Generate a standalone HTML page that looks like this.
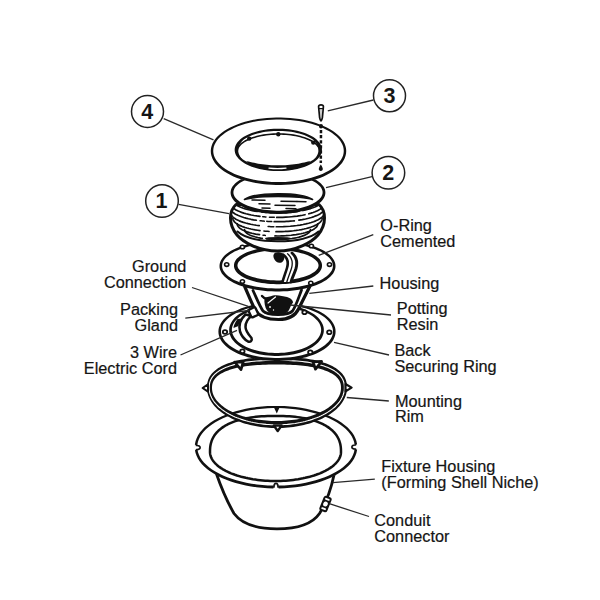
<!DOCTYPE html>
<html><head><meta charset="utf-8">
<style>
html,body{margin:0;padding:0;background:#fff;width:600px;height:600px;overflow:hidden}
svg{display:block}
text{font-family:"Liberation Sans",sans-serif;fill:#151515}
</style></head><body>
<svg width="600" height="600" viewBox="0 0 600 600">
<rect width="600" height="600" fill="#fff"/>
<!-- callout circles -->
<g stroke="#222" stroke-width="1.5" fill="#fff">
<circle cx="147.5" cy="111.5" r="16"/>
<circle cx="389.5" cy="95.8" r="16"/>
<circle cx="388.4" cy="172.7" r="16.3"/>
<circle cx="162" cy="201" r="16.3"/>
</g>
<g font-weight="bold" font-size="21.5" text-anchor="middle" style="font-weight:bold">
<text x="147.3" y="118.6">4</text>
<text x="389.6" y="103">3</text>
<text x="388.2" y="179.8">2</text>
<text x="161.5" y="208.3">1</text>
</g>

<!-- labels -->
<g font-size="16.3" stroke="#151515" stroke-width="0.2">
<text x="380.3" y="230.7">O-Ring</text>
<text x="380.3" y="246.7">Cemented</text>
<text x="379.6" y="289.0">Housing</text>
<text x="396.8" y="314.4">Potting</text>
<text x="396.8" y="330.4">Resin</text>
<text x="394.4" y="356.3">Back</text>
<text x="394.4" y="372.3">Securing Ring</text>
<text x="395" y="406.5">Mounting</text>
<text x="395" y="422.1">Rim</text>
<text x="381.3" y="471.9">Fixture Housing</text>
<text x="381.3" y="488.2">(Forming Shell Niche)</text>
<text x="374.3" y="525.7">Conduit</text>
<text x="374.3" y="542.0">Connector</text>
</g>
<g font-size="16.3" text-anchor="end" stroke="#151515" stroke-width="0.2">
<text x="186.3" y="272.3">Ground</text>
<text x="186.3" y="288.3">Connection</text>
<text x="178" y="315.2">Packing</text>
<text x="178" y="331.4">Gland</text>
<text x="177" y="358.4">3 Wire</text>
<text x="177" y="374.0">Electric Cord</text>
</g>


<g fill="none" stroke="#111" stroke-linecap="round" stroke-linejoin="round">
<g id="fixture">
<path d="M216.5,474 C221,487 228,503 234,513.5 C241,523 254,528.8 277,528.8 C300,528.8 313,523 319.5,513.5 C326,503 331,489 334,475 Z" fill="#fff" stroke-width="2.8"/>
<ellipse cx="276" cy="447" rx="81" ry="41" fill="#fff" stroke="none"/>
<path d="M357.25,447 L357.05,449.96 L356.44,452.91 L355.43,455.82 L354.02,458.67 L352.23,461.45 L350.06,464.14 L347.54,466.74 L344.67,469.23 L341.48,471.61 L337.97,473.87 L334.17,475.99 L330.09,477.97 L325.75,479.79 L321.17,481.46 L316.38,482.97 L311.4,484.3 L306.24,485.45 L300.94,486.42 L295.53,487.2 L290.01,487.78 L284.44,488.18 L278.82,488.38 L273.18,488.38 L267.56,488.18 L261.99,487.78 L256.47,487.2 L251.06,486.42 L245.76,485.45 L240.6,484.3 L235.62,482.97 L230.83,481.46 L226.25,479.79 L221.91,477.97 L217.83,475.99 L214.03,473.87 L210.52,471.61 L207.33,469.23 L204.46,466.74 L201.94,464.14 L199.77,461.45 L197.98,458.67 L196.57,455.82 L195.56,452.91 L194.95,449.96 L194.75,447 L194.97,444.04 L195.6,441.1 L196.63,438.21 L198.05,435.37 L199.86,432.61 L202.03,429.94 L204.56,427.36 L207.42,424.89 L210.62,422.53 L214.13,420.3 L217.93,418.2 L222,416.24 L226.34,414.43 L230.9,412.77 L235.69,411.28 L240.67,409.96 L245.81,408.82 L251.1,407.86 L256.51,407.09 L262.01,406.51 L267.58,406.12 L273.19,405.92 L278.81,405.92 L284.42,406.12 L289.99,406.51 L295.49,407.09 L300.9,407.86 L306.19,408.82 L311.33,409.96 L316.31,411.28 L321.1,412.77 L325.66,414.43 L330,416.24 L334.07,418.2 L337.87,420.3 L341.38,422.53 L344.58,424.89 L347.44,427.36 L349.97,429.94 L352.14,432.61 L353.95,435.37 L355.37,438.21 L356.4,441.1 L357.03,444.04Z M354.58,444.38 L354.04,441.77 L353.13,439.16 L351.85,436.58 L350.21,434.02 L348.2,431.52 L345.83,429.08 L343.11,426.72 L340.06,424.45 L336.69,422.28 L333.02,420.23 L329.06,418.31 L324.84,416.53 L320.38,414.91 L315.69,413.44 L310.81,412.13 L305.75,411 L300.54,410.05 L295.22,409.28 L289.8,408.71 L284.3,408.32 L278.77,408.12 L273.23,408.12 L267.7,408.32 L262.2,408.71 L256.78,409.28 L251.46,410.05 L246.25,411 L241.19,412.13 L236.31,413.44 L231.62,414.91 L227.16,416.53 L222.94,418.31 L218.98,420.23 L215.31,422.28 L211.94,424.45 L208.89,426.72 L206.17,429.08 L203.8,431.52 L201.79,434.02 L200.15,436.58 L198.87,439.16 L197.96,441.77 L197.42,444.38 L197.25,447 L197.44,449.62 L198,452.22 L198.93,454.82 L200.22,457.38 L201.88,459.91 L203.9,462.4 L206.27,464.82 L208.99,467.16 L212.04,469.41 L215.41,471.55 L219.08,473.58 L223.03,475.48 L227.24,477.25 L231.7,478.86 L236.38,480.32 L241.26,481.61 L246.31,482.73 L251.5,483.67 L256.82,484.43 L262.23,485 L267.71,485.38 L273.23,485.58 L278.77,485.58 L284.29,485.38 L289.77,485 L295.18,484.43 L300.5,483.67 L305.69,482.73 L310.74,481.61 L315.62,480.32 L320.3,478.86 L324.76,477.25 L328.97,475.48 L332.92,473.58 L336.59,471.55 L339.96,469.41 L343.01,467.16 L345.73,464.82 L348.1,462.4 L350.12,459.91 L351.78,457.38 L353.07,454.82 L354,452.22 L354.56,449.62 L354.75,447Z" fill="#111" stroke="none" fill-rule="evenodd"/>
<path d="M341,452 L340.95,453.14 L340.8,454.28 L340.55,455.41 L340.19,456.54 L339.74,457.66 L339.19,458.77 L338.54,459.87 L337.79,460.96 L336.95,462.04 L336.01,463.1 L334.98,464.14 L333.86,465.17 L332.65,466.17 L331.35,467.15 L329.96,468.11 L328.49,469.05 L326.94,469.95 L325.31,470.83 L323.6,471.69 L321.82,472.51 L319.96,473.3 L318.04,474.05 L316.05,474.77 L314,475.46 L311.89,476.11 L309.72,476.73 L307.5,477.3 L305.24,477.84 L302.92,478.34 L300.57,478.79 L298.17,479.21 L295.74,479.58 L293.28,479.91 L290.79,480.2 L288.28,480.44 L285.75,480.64 L283.2,480.8 L280.64,480.91 L278.07,480.98 L275.5,481 L272.93,480.98 L270.36,480.91 L267.8,480.8 L265.25,480.64 L262.72,480.44 L260.21,480.2 L257.72,479.91 L255.26,479.58 L252.83,479.21 L250.43,478.79 L248.08,478.34 L245.76,477.84 L243.5,477.3 L241.28,476.73 L239.11,476.11 L237,475.46 L234.95,474.77 L232.96,474.05 L231.04,473.3 L229.18,472.51 L227.4,471.69 L225.69,470.83 L224.06,469.95 L222.51,469.05 L221.04,468.11 L219.65,467.15 L218.35,466.17 L217.14,465.17 L216.02,464.14 L214.99,463.1 L214.05,462.04 L213.21,460.96 L212.46,459.87 L211.81,458.77 L211.26,457.66 L210.81,456.54 L210.45,455.41 L210.2,454.28 L210.05,453.14 L210,452 L210.04,449.58 L210.17,447.68 L210.38,445.95 L210.67,444.33 L211.05,442.78 L211.51,441.29 L212.06,439.86 L212.68,438.47 L213.39,437.13 L214.18,435.83 L215.05,434.57 L216.01,433.36 L217.04,432.18 L218.15,431.04 L219.34,429.94 L220.6,428.88 L221.95,427.86 L223.37,426.88 L224.86,425.93 L226.43,425.03 L228.07,424.17 L229.79,423.35 L231.58,422.57 L233.43,421.83 L235.36,421.13 L237.37,420.48 L239.44,419.87 L241.58,419.3 L243.8,418.78 L246.08,418.3 L248.44,417.86 L250.88,417.47 L253.4,417.13 L256.01,416.83 L258.72,416.58 L261.54,416.37 L264.5,416.21 L267.65,416.09 L271.09,416.02 L275.5,416 L279.91,416.02 L283.35,416.09 L286.5,416.21 L289.46,416.37 L292.28,416.58 L294.99,416.83 L297.6,417.13 L300.12,417.47 L302.56,417.86 L304.92,418.3 L307.2,418.78 L309.42,419.3 L311.56,419.87 L313.63,420.48 L315.64,421.13 L317.57,421.83 L319.42,422.57 L321.21,423.35 L322.93,424.17 L324.57,425.03 L326.14,425.93 L327.63,426.88 L329.05,427.86 L330.4,428.88 L331.66,429.94 L332.85,431.04 L333.96,432.18 L334.99,433.36 L335.95,434.57 L336.82,435.83 L337.61,437.13 L338.32,438.47 L338.94,439.86 L339.49,441.29 L339.95,442.78 L340.33,444.33 L340.62,445.95 L340.83,447.68 L340.96,449.58Z" stroke-width="2.5"/>
<g transform="translate(196.3 447.5) rotate(0)"><rect x="-2.2" y="-2.6" width="4.2" height="5.2" fill="#fff" stroke="none"/><path d="M0.2,-3 L0.2,-2 Q3.8,-2.2 3.8,0 Q3.8,2.2 0.2,2 L0.2,3" stroke-width="1.7" stroke-linejoin="round"/></g>
<g transform="translate(355.7 447) rotate(180)"><rect x="-2.2" y="-2.6" width="4.2" height="5.2" fill="#fff" stroke="none"/><path d="M0.2,-3 L0.2,-2 Q3.8,-2.2 3.8,0 Q3.8,2.2 0.2,2 L0.2,3" stroke-width="1.7" stroke-linejoin="round"/></g>
<g transform="translate(276 487.2) rotate(-90)"><rect x="-2.2" y="-2.6" width="4.2" height="5.2" fill="#fff" stroke="none"/><path d="M0.2,-3 L0.2,-2 Q3.8,-2.2 3.8,0 Q3.8,2.2 0.2,2 L0.2,3" stroke-width="1.7" stroke-linejoin="round"/></g>
<path d="M273.5,406.5 L276.8,413.5 L280,406.5 Z" fill="#111" stroke="none"/>
<g transform="translate(325.5 504) rotate(22)"><rect x="-4.2" y="-8" width="8.4" height="16" rx="2.5" fill="#111" stroke="none"/><ellipse cx="0" cy="0" rx="2.3" ry="2.5" fill="#fff" stroke="none"/><rect x="-2.4" y="-5.9" width="4.8" height="1.8" rx="0.9" fill="#fff" stroke="none"/><rect x="-2.4" y="4.1" width="4.8" height="1.8" rx="0.9" fill="#fff" stroke="none"/></g>
</g>
<g id="rim">
<path d="M347,388 L346.95,389.57 L346.78,391.14 L346.51,392.7 L346.14,394.26 L345.65,395.8 L345.07,397.34 L344.37,398.86 L343.57,400.36 L342.67,401.84 L341.67,403.31 L340.57,404.75 L339.37,406.16 L338.07,407.54 L336.68,408.9 L335.2,410.22 L333.63,411.51 L331.97,412.76 L330.23,413.98 L328.4,415.15 L326.5,416.28 L324.52,417.37 L322.46,418.42 L320.34,419.41 L318.14,420.36 L315.89,421.26 L313.57,422.11 L311.2,422.9 L308.78,423.64 L306.31,424.33 L303.79,424.96 L301.23,425.53 L298.63,426.04 L296,426.5 L293.34,426.89 L290.66,427.23 L287.95,427.51 L285.23,427.72 L282.49,427.88 L279.75,427.97 L277,428 L274.25,427.97 L271.51,427.88 L268.77,427.72 L266.05,427.51 L263.34,427.23 L260.66,426.89 L258,426.5 L255.37,426.04 L252.77,425.53 L250.21,424.96 L247.69,424.33 L245.22,423.64 L242.8,422.9 L240.43,422.11 L238.11,421.26 L235.86,420.36 L233.66,419.41 L231.54,418.42 L229.48,417.37 L227.5,416.28 L225.6,415.15 L223.77,413.98 L222.03,412.76 L220.37,411.51 L218.8,410.22 L217.32,408.9 L215.93,407.54 L214.63,406.16 L213.43,404.75 L212.33,403.31 L211.33,401.84 L210.43,400.36 L209.63,398.86 L208.93,397.34 L208.35,395.8 L207.86,394.26 L207.49,392.7 L207.22,391.14 L207.05,389.57 L207,388 L207.04,385.91 L207.18,384.28 L207.4,382.79 L207.72,381.39 L208.12,380.06 L208.62,378.78 L209.2,377.54 L209.87,376.35 L210.62,375.19 L211.47,374.08 L212.4,372.99 L213.42,371.95 L214.52,370.93 L215.71,369.95 L216.98,369 L218.33,368.09 L219.77,367.21 L221.29,366.37 L222.88,365.55 L224.56,364.78 L226.31,364.03 L228.15,363.33 L230.06,362.65 L232.04,362.02 L234.11,361.42 L236.25,360.86 L238.46,360.33 L240.75,359.84 L243.12,359.39 L245.56,358.98 L248.09,358.61 L250.69,358.27 L253.39,357.97 L256.17,357.72 L259.07,357.5 L262.08,357.32 L265.24,357.18 L268.61,357.08 L272.29,357.02 L277,357 L281.71,357.02 L285.39,357.08 L288.76,357.18 L291.92,357.32 L294.93,357.5 L297.83,357.72 L300.61,357.97 L303.31,358.27 L305.91,358.61 L308.44,358.98 L310.88,359.39 L313.25,359.84 L315.54,360.33 L317.75,360.86 L319.89,361.42 L321.96,362.02 L323.94,362.65 L325.85,363.33 L327.69,364.03 L329.44,364.78 L331.12,365.55 L332.71,366.37 L334.23,367.21 L335.67,368.09 L337.02,369 L338.29,369.95 L339.48,370.93 L340.58,371.95 L341.6,372.99 L342.53,374.08 L343.38,375.19 L344.13,376.35 L344.8,377.54 L345.38,378.78 L345.88,380.06 L346.28,381.39 L346.6,382.79 L346.82,384.28 L346.96,385.91Z M340.96,386.42 L340.83,385.18 L340.63,384.05 L340.34,382.99 L339.97,381.98 L339.51,381.01 L338.98,380.07 L338.36,379.17 L337.66,378.29 L336.88,377.45 L336.02,376.62 L335.09,375.83 L334.07,375.06 L332.98,374.32 L331.81,373.6 L330.56,372.91 L329.23,372.24 L327.84,371.6 L326.37,370.98 L324.82,370.39 L323.2,369.83 L321.51,369.3 L319.75,368.79 L317.92,368.3 L316.02,367.85 L314.05,367.42 L312.01,367.02 L309.9,366.65 L307.72,366.31 L305.47,366 L303.14,365.72 L300.74,365.46 L298.26,365.24 L295.69,365.04 L293.02,364.88 L290.25,364.74 L287.33,364.64 L284.23,364.56 L280.84,364.52 L276.5,364.5 L272.16,364.52 L268.77,364.56 L265.67,364.64 L262.75,364.74 L259.98,364.88 L257.31,365.04 L254.74,365.24 L252.26,365.46 L249.86,365.72 L247.53,366 L245.28,366.31 L243.1,366.65 L240.99,367.02 L238.95,367.42 L236.98,367.85 L235.08,368.3 L233.25,368.79 L231.49,369.3 L229.8,369.83 L228.18,370.39 L226.63,370.98 L225.16,371.6 L223.77,372.24 L222.44,372.91 L221.19,373.6 L220.02,374.32 L218.93,375.06 L217.91,375.83 L216.98,376.62 L216.12,377.45 L215.34,378.29 L214.64,379.17 L214.02,380.07 L213.49,381.01 L213.03,381.98 L212.66,382.99 L212.37,384.05 L212.17,385.18 L212.04,386.42 L212,388 L212.05,389.3 L212.2,390.59 L212.45,391.88 L212.79,393.16 L213.24,394.44 L213.78,395.7 L214.42,396.96 L215.16,398.2 L215.99,399.42 L216.91,400.63 L217.92,401.82 L219.03,402.98 L220.22,404.12 L221.5,405.24 L222.87,406.33 L224.32,407.4 L225.85,408.43 L227.45,409.43 L229.14,410.4 L230.89,411.33 L232.72,412.23 L234.61,413.09 L236.57,413.92 L238.59,414.7 L240.67,415.44 L242.8,416.14 L244.98,416.79 L247.22,417.4 L249.5,417.97 L251.82,418.49 L254.18,418.96 L256.57,419.38 L258.99,419.76 L261.44,420.09 L263.92,420.37 L266.41,420.59 L268.92,420.77 L271.44,420.9 L273.97,420.97 L276.5,421 L279.03,420.97 L281.56,420.9 L284.08,420.77 L286.59,420.59 L289.08,420.37 L291.56,420.09 L294.01,419.76 L296.43,419.38 L298.82,418.96 L301.18,418.49 L303.5,417.97 L305.78,417.4 L308.02,416.79 L310.2,416.14 L312.33,415.44 L314.41,414.7 L316.43,413.92 L318.39,413.09 L320.28,412.23 L322.11,411.33 L323.86,410.4 L325.55,409.43 L327.15,408.43 L328.68,407.4 L330.13,406.33 L331.5,405.24 L332.78,404.12 L333.97,402.98 L335.08,401.82 L336.09,400.63 L337.01,399.42 L337.84,398.2 L338.58,396.96 L339.22,395.7 L339.76,394.44 L340.21,393.16 L340.55,391.88 L340.8,390.59 L340.95,389.3 L341,388Z" fill="#111" stroke="none" fill-rule="evenodd"/>
<path d="M344.4,388 L344.35,389.44 L344.19,390.89 L343.93,392.33 L343.57,393.76 L343.1,395.18 L342.53,396.59 L341.86,397.99 L341.09,399.37 L340.22,400.74 L339.25,402.08 L338.19,403.41 L337.03,404.71 L335.78,405.98 L334.44,407.23 L333.01,408.44 L331.49,409.63 L329.89,410.78 L328.2,411.9 L326.44,412.98 L324.6,414.02 L322.69,415.02 L320.7,415.98 L318.65,416.9 L316.53,417.77 L314.36,418.6 L312.12,419.38 L309.83,420.11 L307.49,420.79 L305.1,421.42 L302.67,422 L300.2,422.53 L297.69,423 L295.15,423.42 L292.58,423.78 L289.99,424.09 L287.37,424.35 L284.75,424.54 L282.1,424.69 L279.45,424.77 L276.8,424.8 L274.15,424.77 L271.5,424.69 L268.85,424.54 L266.23,424.35 L263.61,424.09 L261.02,423.78 L258.45,423.42 L255.91,423 L253.4,422.53 L250.93,422 L248.5,421.42 L246.11,420.79 L243.77,420.11 L241.48,419.38 L239.24,418.6 L237.07,417.77 L234.95,416.9 L232.9,415.98 L230.91,415.02 L229,414.02 L227.16,412.98 L225.4,411.9 L223.71,410.78 L222.11,409.63 L220.59,408.44 L219.16,407.23 L217.82,405.98 L216.57,404.71 L215.41,403.41 L214.35,402.08 L213.38,400.74 L212.51,399.37 L211.74,397.99 L211.07,396.59 L210.5,395.18 L210.03,393.76 L209.67,392.33 L209.41,390.89 L209.25,389.44 L209.2,388 L209.24,386.14 L209.37,384.69 L209.59,383.36 L209.89,382.12 L210.28,380.93 L210.76,379.79 L211.32,378.69 L211.97,377.63 L212.7,376.6 L213.52,375.6 L214.42,374.64 L215.4,373.71 L216.46,372.8 L217.61,371.93 L218.84,371.09 L220.14,370.27 L221.53,369.49 L223,368.74 L224.54,368.02 L226.16,367.32 L227.85,366.66 L229.62,366.03 L231.47,365.43 L233.39,364.87 L235.38,364.33 L237.44,363.83 L239.58,363.37 L241.79,362.93 L244.08,362.53 L246.44,362.16 L248.88,361.83 L251.39,361.53 L254,361.27 L256.69,361.04 L259.48,360.84 L262.39,360.68 L265.45,360.56 L268.69,360.47 L272.25,360.42 L276.8,360.4 L281.35,360.42 L284.91,360.47 L288.15,360.56 L291.21,360.68 L294.12,360.84 L296.91,361.04 L299.6,361.27 L302.21,361.53 L304.72,361.83 L307.16,362.16 L309.52,362.53 L311.81,362.93 L314.02,363.37 L316.16,363.83 L318.22,364.33 L320.21,364.87 L322.13,365.43 L323.98,366.03 L325.75,366.66 L327.44,367.32 L329.06,368.02 L330.6,368.74 L332.07,369.49 L333.46,370.27 L334.76,371.09 L335.99,371.93 L337.14,372.8 L338.2,373.71 L339.18,374.64 L340.08,375.6 L340.9,376.6 L341.63,377.63 L342.28,378.69 L342.84,379.79 L343.32,380.93 L343.71,382.12 L344.01,383.36 L344.23,384.69 L344.36,386.14Z" fill="none" stroke="#fff" stroke-width="1.1"/>
<path d="M234.6,362 L243.2,362.2 L241,369.6 Z" fill="#fff" stroke="#111" stroke-width="2.7" stroke-linejoin="round"/>
<path d="M321.6,361.4 L313,361.8 L315.5,369.2 Z" fill="#fff" stroke="#111" stroke-width="2.7" stroke-linejoin="round"/>
<path d="M273.8,425.5 L281.6,425.5 L277.7,431 Z" fill="#fff" stroke="#111" stroke-width="2.4" stroke-linejoin="round"/>
<path d="M208,384.4 L208,391.6 L202.6,388 Z" fill="#fff" stroke="#111" stroke-width="2" stroke-linejoin="round"/>
<path d="M345.5,384 L345.5,391.4 L351.6,387.6 Z" fill="#fff" stroke="#111" stroke-width="2.2" stroke-linejoin="round"/>
</g>
<g id="back">
<ellipse cx="277" cy="331.5" rx="58.5" ry="29" fill="#fff" stroke="none"/>
<path d="M335.6,331.5 L335.46,333.64 L335.02,335.76 L334.28,337.86 L333.25,339.9 L331.94,341.89 L330.37,343.82 L328.54,345.67 L326.46,347.45 L324.15,349.13 L321.61,350.73 L318.87,352.23 L315.92,353.63 L312.8,354.93 L309.5,356.11 L306.05,357.17 L302.46,358.11 L298.75,358.92 L294.94,359.6 L291.04,360.15 L287.08,360.57 L283.07,360.84 L279.03,360.98 L274.97,360.98 L270.93,360.84 L266.92,360.57 L262.96,360.15 L259.06,359.6 L255.25,358.92 L251.54,358.11 L247.95,357.17 L244.5,356.11 L241.2,354.93 L238.08,353.63 L235.13,352.23 L232.39,350.73 L229.85,349.13 L227.54,347.45 L225.46,345.67 L223.63,343.82 L222.06,341.89 L220.75,339.9 L219.72,337.86 L218.98,335.76 L218.54,333.64 L218.4,331.5 L218.57,329.36 L219.04,327.25 L219.8,325.18 L220.85,323.15 L222.17,321.19 L223.75,319.29 L225.59,317.47 L227.67,315.72 L229.98,314.06 L232.52,312.49 L235.26,311.01 L238.2,309.64 L241.32,308.37 L244.6,307.21 L248.04,306.17 L251.62,305.24 L255.32,304.45 L259.12,303.77 L263,303.23 L266.96,302.83 L270.95,302.55 L274.98,302.42 L279.02,302.42 L283.05,302.55 L287.04,302.83 L291,303.23 L294.88,303.77 L298.68,304.45 L302.38,305.24 L305.96,306.17 L309.4,307.21 L312.68,308.37 L315.8,309.64 L318.74,311.01 L321.48,312.49 L324.02,314.06 L326.33,315.72 L328.41,317.47 L330.25,319.29 L331.83,321.19 L333.15,323.15 L334.2,325.18 L334.96,327.25 L335.43,329.36Z M332.89,329.73 L332.52,327.95 L331.89,326.18 L331.01,324.41 L329.86,322.66 L328.45,320.93 L326.78,319.24 L324.86,317.6 L322.7,316.02 L320.3,314.51 L317.69,313.09 L314.88,311.75 L311.87,310.5 L308.69,309.36 L305.34,308.34 L301.86,307.42 L298.25,306.63 L294.53,305.97 L290.73,305.43 L286.86,305.02 L282.93,304.75 L278.98,304.62 L275.02,304.62 L271.07,304.75 L267.14,305.02 L263.27,305.43 L259.47,305.97 L255.75,306.63 L252.14,307.42 L248.66,308.34 L245.31,309.36 L242.13,310.5 L239.12,311.75 L236.31,313.09 L233.7,314.51 L231.3,316.02 L229.14,317.6 L227.22,319.24 L225.55,320.93 L224.14,322.66 L222.99,324.41 L222.11,326.18 L221.48,327.95 L221.11,329.73 L221,331.5 L221.14,333.27 L221.53,335.03 L222.18,336.79 L223.09,338.53 L224.25,340.26 L225.67,341.96 L227.35,343.62 L229.27,345.23 L231.43,346.78 L233.82,348.26 L236.43,349.67 L239.24,350.98 L242.24,352.2 L245.42,353.32 L248.75,354.33 L252.22,355.23 L255.82,356 L259.53,356.66 L263.32,357.19 L267.18,357.58 L271.09,357.85 L275.03,357.98 L278.97,357.98 L282.91,357.85 L286.82,357.58 L290.68,357.19 L294.47,356.66 L298.18,356 L301.78,355.23 L305.25,354.33 L308.58,353.32 L311.76,352.2 L314.76,350.98 L317.57,349.67 L320.18,348.26 L322.57,346.78 L324.73,345.23 L326.65,343.62 L328.33,341.96 L329.75,340.26 L330.91,338.53 L331.82,336.79 L332.47,335.03 L332.86,333.27 L333,331.5Z" fill="#111" stroke="none" fill-rule="evenodd"/>
<path d="M323.85,330 L323.74,331.89 L323.38,333.76 L322.78,335.61 L321.94,337.41 L320.88,339.17 L319.61,340.87 L318.12,342.51 L316.44,344.07 L314.57,345.56 L312.51,346.97 L310.29,348.29 L307.91,349.52 L305.38,350.66 L302.72,351.7 L299.93,352.63 L297.04,353.46 L294.05,354.17 L290.97,354.77 L287.83,355.25 L284.63,355.62 L281.39,355.86 L278.13,355.98 L274.87,355.98 L271.61,355.86 L268.37,355.62 L265.17,355.25 L262.03,354.77 L258.95,354.17 L255.96,353.46 L253.07,352.63 L250.28,351.7 L247.62,350.66 L245.09,349.52 L242.71,348.29 L240.49,346.97 L238.43,345.56 L236.56,344.07 L234.88,342.51 L233.39,340.87 L232.12,339.17 L231.06,337.41 L230.22,335.61 L229.62,333.76 L229.26,331.89 L229.15,330 L229.28,328.12 L229.66,326.25 L230.28,324.42 L231.13,322.63 L232.2,320.89 L233.49,319.21 L234.98,317.59 L236.67,316.05 L238.54,314.58 L240.59,313.19 L242.81,311.89 L245.18,310.68 L247.71,309.56 L250.36,308.54 L253.14,307.62 L256.03,306.8 L259.01,306.1 L262.08,305.51 L265.21,305.03 L268.4,304.68 L271.62,304.44 L274.87,304.32 L278.13,304.32 L281.38,304.44 L284.6,304.68 L287.79,305.03 L290.92,305.51 L293.99,306.1 L296.97,306.8 L299.86,307.62 L302.64,308.54 L305.29,309.56 L307.82,310.68 L310.19,311.89 L312.41,313.19 L314.46,314.58 L316.33,316.05 L318.02,317.59 L319.51,319.21 L320.8,320.89 L321.87,322.63 L322.72,324.42 L323.34,326.25 L323.72,328.12Z M321.06,328.47 L320.77,326.93 L320.27,325.39 L319.57,323.87 L318.65,322.35 L317.53,320.86 L316.21,319.4 L314.69,317.98 L312.97,316.62 L311.07,315.31 L308.99,314.07 L306.74,312.91 L304.35,311.83 L301.81,310.84 L299.14,309.95 L296.36,309.16 L293.48,308.47 L290.51,307.89 L287.47,307.42 L284.38,307.07 L281.24,306.83 L278.08,306.71 L274.92,306.71 L271.76,306.83 L268.62,307.07 L265.53,307.42 L262.49,307.89 L259.52,308.47 L256.64,309.16 L253.86,309.95 L251.19,310.84 L248.65,311.83 L246.26,312.91 L244.01,314.07 L241.93,315.31 L240.03,316.62 L238.31,317.98 L236.79,319.4 L235.47,320.86 L234.35,322.35 L233.43,323.87 L232.73,325.39 L232.23,326.93 L231.94,328.47 L231.85,330 L231.96,331.53 L232.27,333.06 L232.79,334.58 L233.51,336.09 L234.43,337.59 L235.56,339.06 L236.89,340.5 L238.42,341.9 L240.14,343.24 L242.04,344.53 L244.11,345.75 L246.35,346.89 L248.74,347.95 L251.28,348.92 L253.93,349.8 L256.71,350.58 L259.58,351.26 L262.54,351.83 L265.57,352.29 L268.65,352.64 L271.78,352.87 L274.92,352.99 L278.08,352.99 L281.22,352.87 L284.35,352.64 L287.43,352.29 L290.46,351.83 L293.42,351.26 L296.29,350.58 L299.07,349.8 L301.72,348.92 L304.26,347.95 L306.65,346.89 L308.89,345.75 L310.96,344.53 L312.86,343.24 L314.58,341.9 L316.11,340.5 L317.44,339.06 L318.57,337.59 L319.49,336.09 L320.21,334.58 L320.73,333.06 L321.04,331.53 L321.15,330Z" fill="#111" stroke="none" fill-rule="evenodd"/>
<ellipse cx="225" cy="332" rx="2.2" ry="1.9" fill="#fff" stroke-width="1.8"/>
<ellipse cx="329.3" cy="332.3" rx="2.2" ry="1.9" fill="#fff" stroke-width="1.8"/>
<ellipse cx="242.4" cy="351.3" rx="2.2" ry="1.9" fill="#fff" stroke-width="1.8"/>
<ellipse cx="310.3" cy="352.3" rx="2.2" ry="1.9" fill="#fff" stroke-width="1.8"/>
<ellipse cx="251.7" cy="312.3" rx="2.2" ry="1.9" fill="#fff" stroke-width="1.8"/>
<ellipse cx="304.5" cy="312.3" rx="2.2" ry="1.9" fill="#fff" stroke-width="1.8"/>
<path d="M237.5,319 C235,322.5 233.5,325.5 233.5,328 L238.5,326 C239,323 240,321 241.5,318.5 Z" fill="#111" stroke="none"/>
<path d="M245.5,314.5 C240.5,319 238.5,325 240,331.5 C241.5,336 244.5,339.5 248,341.5 C250.5,342.5 252.5,340.5 251.5,338 C248,334 245.5,331 245.5,327 C245.5,322 248,318.5 251.5,316 Z" fill="#fff" stroke-width="2.5"/>
</g>
<g id="housing">
<path d="M244.5,286 C248,294 252,304 255.5,310.5 C259,316 267,319.5 278.5,319.5 C288,319.5 295,316.5 298.5,309 C302,302 306,294 310,286 Z" fill="#fff" stroke-width="3.2"/>
<path d="M253,290.5 C256.5,298 259.5,306 263,311 C267.5,315.5 288,316 292.5,311 C296,306 298.5,298 301.5,290" stroke-width="2.8"/>
<path d="M264.5,298 C267,296.5 270,297 273,295.5 C277,294.5 283,296 287,297 C290.5,298 293,300 293,302.5 C291.5,304.5 290.5,306.5 289.5,309 C287.5,313 284,315 278.5,315 C273,315 269.5,313.5 267,310.5 C265,307.5 264,302.5 264.5,298 Z" fill="#111" stroke="none"/>
<path d="M268,303 L275.5,297" stroke="#fff" stroke-width="1.2"/>
<circle cx="270" cy="307" r="0.9" fill="#fff" stroke="none"/><circle cx="273.5" cy="310" r="0.7" fill="#fff" stroke="none"/>
<path d="M262,296 C264,298.5 266.5,299.5 269,298.5" stroke-width="2.4"/>
<rect x="249.5" y="308" width="7.5" height="8.5" rx="1.5" fill="#fff" stroke-width="2.4" transform="rotate(-25 253.5 312)"/>
<ellipse cx="277.5" cy="266" rx="57.5" ry="25" fill="#fff" stroke="none"/>
<path d="M335.5,266 L335.36,267.89 L334.91,269.76 L334.16,271.59 L333.13,273.38 L331.82,275.1 L330.25,276.76 L328.43,278.36 L326.37,279.88 L324.08,281.33 L321.58,282.7 L318.86,283.99 L315.96,285.19 L312.87,286.3 L309.61,287.31 L306.2,288.22 L302.65,289.02 L298.99,289.72 L295.22,290.3 L291.37,290.77 L287.46,291.13 L283.49,291.37 L279.5,291.49 L275.5,291.49 L271.51,291.37 L267.54,291.13 L263.63,290.77 L259.78,290.3 L256.01,289.72 L252.35,289.02 L248.8,288.22 L245.39,287.31 L242.13,286.3 L239.04,285.19 L236.14,283.99 L233.42,282.7 L230.92,281.33 L228.63,279.88 L226.57,278.36 L224.75,276.76 L223.18,275.1 L221.87,273.38 L220.84,271.59 L220.09,269.76 L219.64,267.89 L219.5,266 L219.67,264.12 L220.14,262.26 L220.91,260.45 L221.97,258.69 L223.29,256.99 L224.86,255.36 L226.69,253.79 L228.75,252.29 L231.03,250.87 L233.54,249.53 L236.25,248.26 L239.15,247.09 L242.23,246 L245.48,245.01 L248.88,244.12 L252.42,243.33 L256.07,242.65 L259.83,242.08 L263.67,241.61 L267.57,241.26 L271.52,241.03 L275.5,240.91 L279.5,240.91 L283.48,241.03 L287.43,241.26 L291.33,241.61 L295.17,242.08 L298.93,242.65 L302.58,243.33 L306.12,244.12 L309.52,245.01 L312.77,246 L315.85,247.09 L318.75,248.26 L321.46,249.53 L323.97,250.87 L326.25,252.29 L328.31,253.79 L330.14,255.36 L331.71,256.99 L333.03,258.69 L334.09,260.45 L334.86,262.26 L335.33,264.12Z M332.79,264.54 L332.44,263.06 L331.84,261.57 L330.97,260.08 L329.85,258.59 L328.46,257.12 L326.81,255.68 L324.91,254.27 L322.78,252.91 L320.41,251.62 L317.82,250.39 L315.03,249.24 L312.05,248.17 L308.89,247.19 L305.58,246.31 L302.13,245.53 L298.55,244.85 L294.87,244.27 L291.1,243.81 L287.26,243.46 L283.38,243.23 L279.46,243.11 L275.54,243.11 L271.62,243.23 L267.74,243.46 L263.9,243.81 L260.13,244.27 L256.45,244.85 L252.87,245.53 L249.42,246.31 L246.11,247.19 L242.95,248.17 L239.97,249.24 L237.18,250.39 L234.59,251.62 L232.22,252.91 L230.09,254.27 L228.19,255.68 L226.54,257.12 L225.15,258.59 L224.03,260.08 L223.16,261.57 L222.56,263.06 L222.21,264.54 L222.1,266 L222.23,267.46 L222.61,268.92 L223.24,270.39 L224.12,271.86 L225.26,273.32 L226.65,274.76 L228.31,276.18 L230.2,277.55 L232.34,278.88 L234.71,280.15 L237.29,281.35 L240.08,282.48 L243.05,283.53 L246.2,284.49 L249.5,285.35 L252.94,286.12 L256.51,286.79 L260.18,287.35 L263.94,287.8 L267.77,288.14 L271.64,288.37 L275.54,288.49 L279.46,288.49 L283.36,288.37 L287.23,288.14 L291.06,287.8 L294.82,287.35 L298.49,286.79 L302.06,286.12 L305.5,285.35 L308.8,284.49 L311.95,283.53 L314.92,282.48 L317.71,281.35 L320.29,280.15 L322.66,278.88 L324.8,277.55 L326.69,276.18 L328.35,274.76 L329.74,273.32 L330.88,271.86 L331.76,270.39 L332.39,268.92 L332.77,267.46 L332.9,266Z" fill="#111" stroke="none" fill-rule="evenodd"/>
<path d="M322.05,265.5 L321.93,266.98 L321.56,268.43 L320.95,269.83 L320.11,271.18 L319.08,272.46 L317.85,273.68 L316.44,274.85 L314.85,275.95 L313.1,276.99 L311.19,277.97 L309.13,278.89 L306.93,279.74 L304.6,280.52 L302.14,281.24 L299.57,281.88 L296.9,282.45 L294.15,282.94 L291.31,283.35 L288.42,283.69 L285.48,283.94 L282.5,284.11 L279.5,284.19 L276.5,284.19 L273.5,284.11 L270.52,283.94 L267.58,283.69 L264.69,283.35 L261.85,282.94 L259.1,282.45 L256.43,281.88 L253.86,281.24 L251.4,280.52 L249.07,279.74 L246.87,278.89 L244.81,277.97 L242.9,276.99 L241.15,275.95 L239.56,274.85 L238.15,273.68 L236.92,272.46 L235.89,271.18 L235.05,269.83 L234.44,268.43 L234.07,266.98 L233.95,265.5 L234.09,264.03 L234.48,262.59 L235.11,261.2 L235.95,259.87 L237,258.61 L238.23,257.41 L239.65,256.27 L241.23,255.19 L242.98,254.17 L244.89,253.21 L246.95,252.31 L249.14,251.47 L251.47,250.7 L253.93,250 L256.49,249.37 L259.15,248.81 L261.9,248.33 L264.72,247.93 L267.61,247.6 L270.54,247.36 L273.51,247.19 L276.5,247.11 L279.5,247.11 L282.49,247.19 L285.46,247.36 L288.39,247.6 L291.28,247.93 L294.1,248.33 L296.85,248.81 L299.51,249.37 L302.07,250 L304.53,250.7 L306.86,251.47 L309.05,252.31 L311.11,253.21 L313.02,254.17 L314.77,255.19 L316.35,256.27 L317.77,257.41 L319,258.61 L320.05,259.87 L320.89,261.2 L321.52,262.59 L321.91,264.03Z M318.48,264.63 L318.26,263.74 L317.86,262.82 L317.28,261.87 L316.5,260.9 L315.52,259.93 L314.34,258.96 L312.98,258.01 L311.42,257.08 L309.7,256.2 L307.8,255.35 L305.75,254.56 L303.56,253.82 L301.23,253.14 L298.79,252.53 L296.24,251.99 L293.59,251.51 L290.87,251.12 L288.08,250.8 L285.23,250.55 L282.35,250.39 L279.45,250.31 L276.55,250.31 L273.65,250.39 L270.77,250.55 L267.92,250.8 L265.13,251.12 L262.41,251.51 L259.76,251.99 L257.21,252.53 L254.77,253.14 L252.44,253.82 L250.25,254.56 L248.2,255.35 L246.3,256.2 L244.58,257.08 L243.02,258.01 L241.66,258.96 L240.48,259.93 L239.5,260.9 L238.72,261.87 L238.14,262.82 L237.74,263.74 L237.52,264.63 L237.45,265.5 L237.54,266.37 L237.78,267.25 L238.19,268.15 L238.79,269.08 L239.58,270.03 L240.56,270.98 L241.74,271.93 L243.11,272.86 L244.66,273.76 L246.39,274.63 L248.28,275.46 L250.32,276.23 L252.51,276.95 L254.83,277.62 L257.27,278.22 L259.82,278.75 L262.45,279.21 L265.17,279.6 L267.95,279.91 L270.79,280.15 L273.66,280.31 L276.55,280.39 L279.45,280.39 L282.34,280.31 L285.21,280.15 L288.05,279.91 L290.83,279.6 L293.55,279.21 L296.18,278.75 L298.73,278.22 L301.17,277.62 L303.49,276.95 L305.68,276.23 L307.72,275.46 L309.61,274.63 L311.34,273.76 L312.89,272.86 L314.26,271.93 L315.44,270.98 L316.42,270.03 L317.21,269.08 L317.81,268.15 L318.22,267.25 L318.46,266.37 L318.55,265.5Z" fill="#111" stroke="none" fill-rule="evenodd"/>
<ellipse cx="226.7" cy="264.6" rx="2.1" ry="1.8" fill="#fff" stroke-width="1.6"/>
<ellipse cx="329.5" cy="264.6" rx="2.1" ry="1.8" fill="#fff" stroke-width="1.6"/>
<ellipse cx="242.4" cy="281.5" rx="2.1" ry="1.8" fill="#fff" stroke-width="1.6"/>
<ellipse cx="310.8" cy="283" rx="2.1" ry="1.8" fill="#fff" stroke-width="1.6"/>
<ellipse cx="242.4" cy="247" rx="2.1" ry="1.8" fill="#fff" stroke-width="1.6"/>
<ellipse cx="311.4" cy="246" rx="2.1" ry="1.8" fill="#fff" stroke-width="1.6"/>
<path d="M282.5,254.5 C287.5,258 288.5,263 287,268 C285.5,273 283.5,278 282.5,282 L291,282 C292.5,277 295,273 296,268.5 C297.5,263 296.5,257 292,253 Z" fill="#fff" stroke="none"/>
<path d="M283,254.5 C288,258 288.5,263 287,268 C285.5,273 283.5,278 282.5,282" stroke-width="2.6"/>
<path d="M292,253 C296.5,257 297.5,263 296,268.5 C294.5,273.5 292,278 291,282" stroke-width="2.9"/>
<path d="M287.5,253.8 C292,257.5 293,263 291.5,268.2 C290,273.2 287.8,278 286.8,282" stroke-width="1.3"/>
<path d="M273.5,255 C274,252.5 277,252 280,252.5 C283,253 285,254.5 284.5,257.5 C284,260.5 282.5,262.8 279.5,262.8 C277,262.8 275.5,261 274.5,259.5 C273.5,258 273.2,256.5 273.5,255 Z" fill="#111" stroke="none"/>
</g>
<g id="lens">
<clipPath id="lensclip"><path d="M236,204.5 L319,204.5 C324,209 324.5,214 324.5,218 C324.5,224 323,229 318.5,231.5 C310,239 295,241.3 277.5,241.3 C260,241.3 246,239 237.5,231.5 C232,229 230.5,224 230.5,218 C230.5,214 231,209 236,204.5 Z"/></clipPath>
<path d="M236,204.5 C231,209 230.5,214 230.5,218 C230.5,224 232,229 237,235 C243,242 258,251 277.5,251 C297,251 312,242 318,235 C323,229 324.5,224 324.5,218 C324.5,214 324,209 319,204.5 Z" fill="#fff" stroke="none"/>
<g clip-path="url(#lensclip)">
<path d="M321.93,196.4 L322.51,197.39 L322.84,198.4 L322.92,199.41 L322.75,200.42 L322.33,201.42 L321.67,202.41 L320.76,203.39 L319.61,204.34 L318.23,205.26 L316.63,206.15 L314.81,207 L312.78,207.81 L310.56,208.57 L308.16,209.28 L305.59,209.94 L302.87,210.53" stroke-width="1.7"/>
<path d="M298.79,211.27 L296.76,211.57 L294.68,211.84 L292.56,212.09 L290.41,212.29 L288.22,212.47 L286,212.62 L283.76,212.73 L281.51,212.8 L279.24,212.85 L276.98,212.86" stroke-width="1.7"/>
<path d="M257.49,211.46 L254.83,211.04 L252.28,210.56 L249.84,210.04 L247.51,209.46 L245.32,208.85 L243.27,208.19 L241.37,207.49 L239.63,206.75 L238.05,205.99 L236.65,205.19 L235.42,204.36 L234.38,203.52 L233.53,202.65 L232.87,201.77 L232.41,200.88 L232.15,199.98 L232.08,199.08 L232.21,198.18 L232.54,197.28 L233.07,196.4" stroke-width="1.7"/>
<path d="M274.6,212.83 L273.53,212.8 L272.47,212.77 L271.41,212.73 L270.35,212.69" stroke-width="1.5"/>
<path d="M266.95,212.48 L265.6,212.38 L264.25,212.26 L262.93,212.14 L261.61,212" stroke-width="1.5"/>
<path d="M323.39,200.38 L323.93,201.29 L324.27,202.21 L324.41,203.13 L324.35,204.05 L324.09,204.97 L323.62,205.88 L322.96,206.79 L322.1,207.67 L321.05,208.54 L319.82,209.38 L318.4,210.2 L316.8,210.99 L315.04,211.75 L313.11,212.47 L311.03,213.15 L308.81,213.79" stroke-width="1.7"/>
<path d="M304.99,214.71 L302.49,215.22 L299.89,215.68 L297.2,216.08 L294.42,216.43 L291.58,216.73 L288.68,216.98 L285.73,217.16 L282.74,217.29 L279.74,217.37 L276.73,217.38" stroke-width="1.7"/>
<path d="M259.91,216.35 L256.92,215.96 L254.03,215.49 L251.25,214.97 L248.61,214.4 L246.1,213.76 L243.74,213.08 L241.55,212.35 L239.54,211.58 L237.71,210.76 L236.07,209.91 L234.64,209.03 L233.41,208.12 L232.4,207.18 L231.61,206.23 L231.04,205.26 L230.7,204.29 L230.58,203.31 L230.7,202.32 L231.04,201.35 L231.61,200.38" stroke-width="1.7"/>
<path d="M274.27,217.35 L273.06,217.32 L271.86,217.28 L270.66,217.23 L269.46,217.17" stroke-width="1.5"/>
<path d="M265.95,216.95 L265.13,216.88 L264.31,216.81 L263.49,216.74 L262.68,216.66" stroke-width="1.5"/>
<path d="M323.95,204.51 L324.61,205.67 L324.94,206.83 L324.96,208 L324.66,209.17 L324.04,210.32 L323.1,211.46 L321.86,212.56 L320.32,213.64 L318.49,214.67 L316.39,215.66 L314.02,216.58 L311.41,217.45 L308.57,218.25 L305.52,218.98 L302.28,219.63 L298.88,220.2" stroke-width="1.7"/>
<path d="M294.33,220.8 L292.39,221.01 L290.43,221.19 L288.45,221.34 L286.44,221.47 L284.42,221.57 L282.39,221.65 L280.34,221.7 L278.29,221.72 L276.24,221.72 L274.2,221.69" stroke-width="1.7"/>
<path d="M256.36,220.23 L253.6,219.79 L250.95,219.29 L248.41,218.74 L246,218.14 L243.73,217.49 L241.6,216.8 L239.63,216.07 L237.82,215.31 L236.19,214.51 L234.74,213.67 L233.47,212.82 L232.39,211.93 L231.51,211.03 L230.83,210.11 L230.35,209.19 L230.08,208.25 L230.01,207.31 L230.15,206.37 L230.5,205.44 L231.05,204.51" stroke-width="1.7"/>
<path d="M271.72,221.62 L270.47,221.57 L269.23,221.51 L267.99,221.44 L266.76,221.36" stroke-width="1.5"/>
<path d="M264.36,221.17 L263.28,221.07 L262.19,220.96 L261.12,220.85 L260.06,220.73" stroke-width="1.5"/>
<path d="M323.39,209.77 L323.99,210.81 L324.33,211.86 L324.41,212.92 L324.22,213.98 L323.76,215.03 L323.05,216.07 L322.07,217.08 L320.85,218.08 L319.37,219.04 L317.67,219.97 L315.73,220.85 L313.58,221.69 L311.22,222.48 L308.67,223.21 L305.95,223.88 L303.06,224.49 L300.03,225.04 L296.88,225.51 L293.61,225.91 L290.25,226.24 L286.82,226.49 L283.34,226.66 L279.82,226.75 L276.29,226.76" stroke-width="1.7"/>
<path d="M259.22,225.66 L256.29,225.25 L253.45,224.78 L250.73,224.25 L248.14,223.67 L245.69,223.04 L243.38,222.35 L241.25,221.63 L239.28,220.85 L237.49,220.04 L235.9,219.2 L234.5,218.32 L233.31,217.42 L232.33,216.5 L231.56,215.55 L231.02,214.6 L230.69,213.63 L230.58,212.66 L230.7,211.69 L231.05,210.72 L231.61,209.77" stroke-width="1.7"/>
<path d="M273.84,226.72 L272.4,226.68 L270.96,226.63 L269.52,226.56 L268.1,226.48" stroke-width="1.5"/>
<path d="M322.14,218.26 L322.04,219.16 L321.74,220.05 L321.24,220.93 L320.55,221.8 L319.66,222.65 L318.59,223.49 L317.34,224.3 L315.9,225.09 L314.3,225.84 L312.53,226.56 L310.6,227.24 L308.52,227.89 L306.31,228.49 L303.97,229.04 L301.51,229.55 L298.94,230.01 L296.28,230.41 L293.53,230.76 L290.71,231.05 L287.83,231.29 L284.91,231.47 L281.95,231.58 L278.97,231.64 L275.99,231.64" stroke-width="1.7"/>
<path d="M259.97,230.58 L257.61,230.25 L255.31,229.88 L253.09,229.47 L250.95,229.03 L248.9,228.54 L246.95,228.02 L245.11,227.47 L243.37,226.89 L241.75,226.28 L240.25,225.64 L238.88,224.98 L237.64,224.29 L236.54,223.58 L235.57,222.85 L234.75,222.11 L234.08,221.36 L233.55,220.59 L233.17,219.82 L232.94,219.04 L232.86,218.26" stroke-width="1.7"/>
<path d="M269.11,231.41 L267.8,231.33 L266.49,231.24 L265.19,231.13 L263.91,231.02" stroke-width="1.5"/>
<path d="M317.78,223.9 L317.69,224.72 L317.41,225.54 L316.95,226.35 L316.3,227.15 L315.47,227.93 L314.47,228.7 L313.3,229.44 L311.96,230.16 L310.46,230.84 L308.81,231.5 L307.01,232.12 L305.08,232.71 L303.02,233.25 L300.84,233.75 L298.56,234.2 L296.17,234.61 L293.7,234.96 L291.16,235.27 L288.55,235.52 L285.89,235.72 L283.19,235.86 L280.47,235.95 L277.73,235.98 L274.99,235.96" stroke-width="1.7"/>
<path d="M259.51,234.71 L257.54,234.39 L255.63,234.05 L253.79,233.67 L252.03,233.26 L250.34,232.82 L248.73,232.36 L247.22,231.87 L245.79,231.35 L244.47,230.81 L243.24,230.25 L242.12,229.68 L241.11,229.08 L240.21,228.47 L239.42,227.84 L238.75,227.2 L238.2,226.55 L237.77,225.9 L237.46,225.23 L237.28,224.57 L237.22,223.9" stroke-width="1.7"/>
<path d="M265.33,235.42 L264.73,235.36 L264.13,235.3 L263.53,235.23 L262.94,235.17" stroke-width="1.5"/>
<path d="M310.5,229.58 L310.42,230.23 L310.21,230.88 L309.85,231.53 L309.35,232.16 L308.71,232.79 L307.94,233.4 L307.03,233.99 L306,234.57 L304.84,235.12 L303.56,235.65 L302.17,236.15 L300.67,236.63 L299.07,237.07 L297.37,237.48 L295.59,237.86 L293.73,238.2 L291.8,238.5 L289.81,238.76 L287.76,238.99 L285.67,239.17 L283.54,239.31 L281.39,239.41 L279.21,239.47 L277.04,239.48" stroke-width="1.7"/>
<path d="M262.24,238.36 L260.67,238.1 L259.15,237.81 L257.68,237.5 L256.28,237.16 L254.93,236.8 L253.65,236.42 L252.45,236.02 L251.31,235.6 L250.26,235.17 L249.29,234.71 L248.4,234.24 L247.59,233.76 L246.88,233.27 L246.25,232.76 L245.72,232.24 L245.28,231.72 L244.94,231.19 L244.7,230.66 L244.55,230.12 L244.5,229.58" stroke-width="1.7"/>
<path d="M275.31,239.46 L274.24,239.43 L273.18,239.39 L272.12,239.35 L271.07,239.29" stroke-width="1.5"/>
<path d="M269.33,239.17 L268.6,239.11 L267.87,239.05 L267.15,238.98 L266.43,238.91" stroke-width="1.5"/>
<ellipse cx="278" cy="238.5" rx="13" ry="1.6" fill="#111" stroke="none"/>
</g>
<path d="M237.5,231.5 C246,239 260,241.3 277.5,241.3 C295,241.3 310,239 318.5,231.5" stroke-width="2"/>
<path d="M236,204.5 C231,209 230.5,214 230.5,218 C230.5,224 232,229 237,235 C243,242 258,251 277.5,251 C297,251 312,242 318,235 C323,229 324.5,224 324.5,218 C324.5,214 324,209 319,204.5 Z" stroke-width="3"/>
</g>
<g id="gasket">
<ellipse cx="278" cy="192.5" rx="46.5" ry="20.5" fill="#fff" stroke="none"/>
<path d="M325.4,192.5 L325.29,194.11 L324.92,195.7 L324.3,197.26 L323.44,198.77 L322.36,200.23 L321.07,201.63 L319.57,202.97 L317.88,204.25 L316,205.47 L313.95,206.62 L311.73,207.69 L309.35,208.69 L306.83,209.62 L304.17,210.46 L301.39,211.22 L298.5,211.89 L295.51,212.47 L292.44,212.95 L289.3,213.35 L286.11,213.64 L282.88,213.84 L279.63,213.94 L276.37,213.94 L273.12,213.84 L269.89,213.64 L266.7,213.35 L263.56,212.95 L260.49,212.47 L257.5,211.89 L254.61,211.22 L251.83,210.46 L249.17,209.62 L246.65,208.69 L244.27,207.69 L242.05,206.62 L240,205.47 L238.12,204.25 L236.43,202.97 L234.93,201.63 L233.64,200.23 L232.56,198.77 L231.7,197.26 L231.08,195.7 L230.71,194.11 L230.6,192.5 L230.75,190.9 L231.15,189.32 L231.8,187.79 L232.67,186.3 L233.77,184.88 L235.07,183.51 L236.58,182.21 L238.27,180.96 L240.15,179.78 L242.2,178.67 L244.41,177.63 L246.78,176.65 L249.3,175.76 L251.94,174.94 L254.71,174.2 L257.59,173.55 L260.57,172.99 L263.62,172.52 L266.75,172.14 L269.92,171.85 L273.14,171.66 L276.38,171.56 L279.62,171.56 L282.86,171.66 L286.08,171.85 L289.25,172.14 L292.38,172.52 L295.43,172.99 L298.41,173.55 L301.29,174.2 L304.06,174.94 L306.7,175.76 L309.22,176.65 L311.59,177.63 L313.8,178.67 L315.85,179.78 L317.73,180.96 L319.42,182.21 L320.93,183.51 L322.23,184.88 L323.33,186.3 L324.2,187.79 L324.85,189.32 L325.25,190.9Z M322.52,191.34 L322.25,190.17 L321.79,188.98 L321.11,187.78 L320.22,186.58 L319.12,185.38 L317.81,184.2 L316.29,183.05 L314.58,181.94 L312.67,180.88 L310.59,179.87 L308.34,178.92 L305.94,178.04 L303.39,177.23 L300.71,176.5 L297.92,175.85 L295.03,175.29 L292.05,174.82 L289,174.44 L285.9,174.15 L282.76,173.96 L279.59,173.86 L276.41,173.86 L273.24,173.96 L270.1,174.15 L267,174.44 L263.95,174.82 L260.97,175.29 L258.08,175.85 L255.29,176.5 L252.61,177.23 L250.06,178.04 L247.66,178.92 L245.41,179.87 L243.33,180.88 L241.42,181.94 L239.71,183.05 L238.19,184.2 L236.88,185.38 L235.78,186.58 L234.89,187.78 L234.21,188.98 L233.75,190.17 L233.48,191.34 L233.4,192.5 L233.51,193.65 L233.81,194.81 L234.31,195.97 L235,197.14 L235.91,198.31 L237.02,199.47 L238.34,200.62 L239.86,201.73 L241.57,202.81 L243.47,203.84 L245.55,204.82 L247.79,205.74 L250.19,206.59 L252.73,207.37 L255.39,208.08 L258.17,208.71 L261.05,209.25 L264.01,209.71 L267.05,210.08 L270.14,210.36 L273.27,210.54 L276.42,210.64 L279.58,210.64 L282.73,210.54 L285.86,210.36 L288.95,210.08 L291.99,209.71 L294.95,209.25 L297.83,208.71 L300.61,208.08 L303.27,207.37 L305.81,206.59 L308.21,205.74 L310.45,204.82 L312.53,203.84 L314.43,202.81 L316.14,201.73 L317.66,200.62 L318.98,199.47 L320.09,198.31 L321,197.14 L321.69,195.97 L322.19,194.81 L322.49,193.65 L322.6,192.5Z" fill="#111" stroke="none" fill-rule="evenodd"/>
<path d="M244.5,199.5 C256,192 300,191.5 312.5,199.5 C300,195.5 256,195.5 244.5,199.5 Z" fill="#111" stroke-width="1.6"/>
<line x1="252" y1="200" x2="265" y2="200.2" stroke-width="1.5"/>
<line x1="259" y1="203.8" x2="270" y2="204" stroke-width="1.5"/>
<line x1="275" y1="205.2" x2="295" y2="205.4" stroke-width="1.5"/>
<line x1="281" y1="201.3" x2="297" y2="201.5" stroke-width="1.5"/>
<line x1="297" y1="201.5" x2="306" y2="201.7" stroke-width="1.5"/>
<line x1="262" y1="208" x2="270" y2="208.2" stroke-width="1.5"/>
<line x1="286" y1="208.5" x2="296" y2="208.7" stroke-width="1.5"/>
</g>
<g id="ring4">
<ellipse cx="278.5" cy="151" rx="67.5" ry="33.5" fill="#fff" stroke="none"/>
<path d="M346.23,151 L346.07,153.44 L345.56,155.87 L344.71,158.26 L343.53,160.61 L342.03,162.89 L340.22,165.11 L338.12,167.24 L335.72,169.28 L333.06,171.23 L330.13,173.07 L326.96,174.81 L323.56,176.43 L319.94,177.92 L316.13,179.28 L312.14,180.51 L307.98,181.6 L303.69,182.54 L299.28,183.33 L294.76,183.97 L290.17,184.45 L285.53,184.77 L280.85,184.93 L276.15,184.93 L271.47,184.77 L266.83,184.45 L262.24,183.97 L257.72,183.33 L253.31,182.54 L249.02,181.6 L244.86,180.51 L240.87,179.28 L237.06,177.92 L233.44,176.43 L230.04,174.81 L226.87,173.07 L223.94,171.23 L221.28,169.28 L218.88,167.24 L216.78,165.11 L214.97,162.89 L213.47,160.61 L212.29,158.26 L211.44,155.87 L210.93,153.44 L210.78,151 L210.96,148.56 L211.5,146.15 L212.37,143.77 L213.57,141.45 L215.09,139.2 L216.91,137.02 L219.03,134.92 L221.42,132.91 L224.09,130.99 L227.01,129.18 L230.18,127.47 L233.58,125.88 L237.18,124.41 L240.99,123.07 L244.97,121.86 L249.11,120.79 L253.39,119.87 L257.79,119.09 L262.29,118.47 L266.87,117.99 L271.5,117.68 L276.16,117.52 L280.84,117.52 L285.5,117.68 L290.13,117.99 L294.71,118.47 L299.21,119.09 L303.61,119.87 L307.89,120.79 L312.03,121.86 L316.01,123.07 L319.82,124.41 L323.42,125.88 L326.82,127.47 L329.99,129.18 L332.91,130.99 L335.58,132.91 L337.97,134.92 L340.09,137.02 L341.91,139.2 L343.43,141.45 L344.63,143.77 L345.5,146.15 L346.04,148.56Z M343.64,148.9 L343.21,146.81 L342.47,144.71 L341.42,142.63 L340.07,140.57 L338.41,138.54 L336.46,136.57 L334.21,134.65 L331.69,132.8 L328.9,131.04 L325.85,129.38 L322.57,127.82 L319.07,126.37 L315.36,125.04 L311.47,123.85 L307.41,122.78 L303.21,121.86 L298.89,121.09 L294.47,120.46 L289.96,119.99 L285.4,119.68 L280.8,119.52 L276.2,119.52 L271.6,119.68 L267.04,119.99 L262.53,120.46 L258.11,121.09 L253.79,121.86 L249.59,122.78 L245.53,123.85 L241.64,125.04 L237.93,126.37 L234.43,127.82 L231.15,129.38 L228.1,131.04 L225.31,132.8 L222.79,134.65 L220.54,136.57 L218.59,138.54 L216.93,140.57 L215.58,142.63 L214.53,144.71 L213.79,146.81 L213.36,148.9 L213.22,151 L213.39,153.09 L213.85,155.18 L214.62,157.25 L215.69,159.31 L217.05,161.34 L218.72,163.33 L220.68,165.28 L222.93,167.16 L225.46,168.98 L228.25,170.71 L231.29,172.34 L234.56,173.88 L238.06,175.3 L241.76,176.6 L245.64,177.78 L249.68,178.82 L253.87,179.73 L258.18,180.49 L262.59,181.1 L267.08,181.57 L271.62,181.88 L276.2,182.03 L280.8,182.03 L285.38,181.88 L289.92,181.57 L294.41,181.1 L298.82,180.49 L303.13,179.73 L307.32,178.82 L311.36,177.78 L315.24,176.6 L318.94,175.3 L322.44,173.88 L325.71,172.34 L328.75,170.71 L331.54,168.98 L334.07,167.16 L336.32,165.28 L338.28,163.33 L339.95,161.34 L341.31,159.31 L342.38,157.25 L343.15,155.18 L343.61,153.09 L343.77,151Z" fill="#111" stroke="none" fill-rule="evenodd"/>
<path d="M321.95,149.8 L321.84,151.36 L321.49,152.91 L320.93,154.44 L320.15,155.92 L319.16,157.35 L317.98,158.74 L316.6,160.07 L315.05,161.34 L313.32,162.55 L311.44,163.69 L309.39,164.76 L307.2,165.76 L304.88,166.68 L302.43,167.52 L299.86,168.27 L297.2,168.94 L294.44,169.52 L291.61,170 L288.72,170.4 L285.78,170.69 L282.8,170.89 L279.8,170.99 L276.8,170.99 L273.8,170.89 L270.82,170.69 L267.88,170.4 L264.99,170 L262.16,169.52 L259.4,168.94 L256.74,168.27 L254.17,167.52 L251.72,166.68 L249.4,165.76 L247.21,164.76 L245.16,163.69 L243.28,162.55 L241.55,161.34 L240,160.07 L238.62,158.74 L237.44,157.35 L236.45,155.92 L235.67,154.44 L235.11,152.91 L234.76,151.36 L234.65,149.8 L234.77,148.24 L235.12,146.69 L235.69,145.17 L236.48,143.7 L237.47,142.27 L238.65,140.89 L240.03,139.57 L241.58,138.3 L243.31,137.1 L245.2,135.97 L247.24,134.9 L249.43,133.91 L251.75,133 L254.2,132.16 L256.76,131.41 L259.42,130.75 L262.17,130.17 L265,129.69 L267.89,129.3 L270.83,129.01 L273.8,128.81 L276.8,128.71 L279.8,128.71 L282.8,128.81 L285.77,129.01 L288.71,129.3 L291.6,129.69 L294.43,130.17 L297.18,130.75 L299.84,131.41 L302.4,132.16 L304.85,133 L307.17,133.91 L309.36,134.9 L311.4,135.97 L313.29,137.1 L315.02,138.3 L316.57,139.57 L317.95,140.89 L319.13,142.27 L320.12,143.7 L320.91,145.17 L321.48,146.69 L321.83,148.24Z M319.56,148.57 L319.29,147.34 L318.83,146.11 L318.18,144.88 L317.34,143.65 L316.31,142.44 L315.08,141.25 L313.67,140.1 L312.07,138.98 L310.31,137.92 L308.38,136.91 L306.3,135.96 L304.08,135.08 L301.73,134.28 L299.26,133.55 L296.68,132.9 L294.01,132.34 L291.27,131.87 L288.45,131.49 L285.59,131.2 L282.69,131.01 L279.77,130.91 L276.83,130.91 L273.91,131.01 L271.01,131.2 L268.15,131.49 L265.33,131.87 L262.59,132.34 L259.92,132.9 L257.34,133.55 L254.87,134.28 L252.52,135.08 L250.3,135.96 L248.22,136.91 L246.29,137.92 L244.53,138.98 L242.93,140.1 L241.52,141.25 L240.29,142.44 L239.26,143.65 L238.42,144.88 L237.77,146.11 L237.31,147.34 L237.04,148.57 L236.95,149.8 L237.04,151.03 L237.32,152.25 L237.79,153.48 L238.44,154.71 L239.29,155.93 L240.32,157.13 L241.55,158.31 L242.97,159.46 L244.56,160.57 L246.32,161.62 L248.25,162.63 L250.33,163.57 L252.54,164.44 L254.89,165.25 L257.36,165.97 L259.94,166.61 L262.6,167.17 L265.35,167.64 L268.16,168.02 L271.02,168.3 L273.92,168.49 L276.84,168.59 L279.76,168.59 L282.68,168.49 L285.58,168.3 L288.44,168.02 L291.25,167.64 L294,167.17 L296.66,166.61 L299.24,165.97 L301.71,165.25 L304.06,164.44 L306.27,163.57 L308.35,162.63 L310.28,161.62 L312.04,160.57 L313.63,159.46 L315.05,158.31 L316.28,157.13 L317.31,155.93 L318.16,154.71 L318.81,153.48 L319.28,152.25 L319.56,151.03 L319.65,149.8Z" fill="#111" stroke="none" fill-rule="evenodd"/>
<path d="M236.53,150.53 L236.71,149.37 L237.06,148.21 L237.58,147.08 L238.25,145.98 L239.08,144.91 L240.05,143.87 L241.16,142.87 L242.41,141.91 L243.79,140.98 L245.3,140.1 L246.93,139.26 L248.67,138.46 L250.52,137.72 L252.47,137.02 L254.52,136.38 L256.66,135.79 L258.88,135.26 L261.17,134.78 L263.53,134.37 L265.94,134.01 L268.39,133.72 L270.89,133.49 L273.41,133.33 L275.95,133.23 L278.5,133.2 L281.05,133.23 L283.59,133.33 L286.11,133.49 L288.61,133.72 L291.06,134.01 L293.47,134.37 L295.83,134.78 L298.12,135.26 L300.34,135.79 L302.48,136.38 L304.53,137.02 L306.48,137.72 L308.33,138.46 L310.07,139.26 L311.7,140.1 L313.21,140.98 L314.59,141.91 L315.84,142.87 L316.95,143.87 L317.92,144.91 L318.75,145.98 L319.42,147.08 L319.94,148.21 L320.29,149.37 L320.47,150.53 L318.88,150.67 L318.73,149.73 L318.44,148.78 L318.01,147.84 L317.43,146.89 L316.7,145.95 L315.83,145.02 L314.81,144.1 L313.66,143.21 L312.36,142.34 L310.93,141.5 L309.38,140.7 L307.7,139.94 L305.91,139.21 L304.02,138.54 L302.02,137.91 L299.94,137.34 L297.77,136.82 L295.53,136.35 L293.22,135.95 L290.85,135.6 L288.44,135.31 L285.99,135.09 L283.51,134.93 L281.01,134.83 L278.5,134.8 L275.99,134.83 L273.49,134.93 L271.01,135.09 L268.56,135.31 L266.15,135.6 L263.78,135.95 L261.47,136.35 L259.23,136.82 L257.06,137.34 L254.98,137.91 L252.98,138.54 L251.09,139.21 L249.3,139.94 L247.62,140.7 L246.07,141.5 L244.64,142.34 L243.34,143.21 L242.19,144.1 L241.17,145.02 L240.3,145.95 L239.57,146.89 L238.99,147.84 L238.56,148.78 L238.27,149.73 L238.12,150.67Z" fill="#111" stroke="none"/>
<path d="M242.36,159.4 L241.09,158.6 L239.93,157.75 L238.87,156.84 L237.93,155.87 L237.11,154.83 L236.44,153.72 L235.93,152.55 L235.58,151.34 L235.42,150.09 L235.45,148.83 L235.66,147.58 L236.05,146.37 L236.62,145.2 L237.34,144.09 L238.2,143.04 L239.2,142.07 L240.32,141.16 L241.55,140.31 L242.88,139.52 L244.31,138.79 L244.31,138.79 L243.14,139.87 L242.11,140.97 L241.21,142.06 L240.44,143.15 L239.8,144.21 L239.28,145.25 L238.87,146.26 L238.57,147.23 L238.36,148.17 L238.23,149.09 L238.19,150.01 L238.22,150.94 L238.33,151.89 L238.55,152.88 L238.86,153.9 L239.3,154.96 L239.86,156.05 L240.56,157.16 L241.39,158.28 L242.36,159.4Z" fill="#111" stroke="none"/>
<path d="M312.29,138.79 L313.72,139.52 L315.05,140.31 L316.28,141.16 L317.4,142.07 L318.4,143.04 L319.26,144.09 L319.98,145.2 L320.55,146.37 L320.94,147.58 L321.15,148.83 L321.18,150.09 L321.02,151.34 L320.67,152.55 L320.16,153.72 L319.49,154.83 L318.67,155.87 L317.73,156.84 L316.67,157.75 L315.51,158.6 L314.24,159.4 L314.24,159.4 L315.21,158.28 L316.04,157.16 L316.74,156.05 L317.3,154.96 L317.74,153.9 L318.05,152.88 L318.27,151.89 L318.38,150.94 L318.41,150.01 L318.37,149.09 L318.24,148.17 L318.03,147.23 L317.73,146.26 L317.32,145.25 L316.8,144.21 L316.16,143.15 L315.39,142.06 L314.49,140.97 L313.46,139.87 L312.29,138.79Z" fill="#111" stroke="none"/>
<circle cx="249.2" cy="138.6" r="2.2" fill="#111" stroke="none"/>
<circle cx="278.3" cy="134.3" r="2.2" fill="#111" stroke="none"/>
<circle cx="313.3" cy="142.6" r="2.2" fill="#111" stroke="none"/>
<path d="M310.05,161.72 L308.71,163.08 L307.1,164.13 L305.35,165.09 L303.48,165.97 L301.51,166.77 L299.44,167.49 L297.3,168.15 L295.08,168.73 L292.8,169.24 L290.47,169.67 L288.09,170.02 L285.67,170.29 L283.23,170.49 L280.77,170.61 L278.3,170.65 L275.83,170.61 L273.37,170.49 L270.93,170.29 L268.51,170.02 L266.13,169.67 L263.8,169.24 L261.52,168.73 L259.3,168.15 L257.16,167.49 L255.09,166.77 L253.12,165.97 L251.25,165.09 L249.5,164.13 L247.89,163.08 L246.55,161.72 L246.78,161.28 L248.63,161.5 L250.41,161.94 L252.25,162.39 L254.15,162.83 L256.12,163.24 L258.14,163.63 L260.23,163.98 L262.36,164.29 L264.55,164.57 L266.78,164.8 L269.04,165 L271.33,165.15 L273.64,165.26 L275.97,165.33 L278.3,165.35 L280.63,165.33 L282.96,165.26 L285.27,165.15 L287.56,165 L289.82,164.8 L292.05,164.57 L294.24,164.29 L296.37,163.98 L298.46,163.63 L300.48,163.24 L302.45,162.83 L304.35,162.39 L306.19,161.94 L307.97,161.5 L309.82,161.28Z" fill="#111" stroke="none"/>
<path d="M269,168.2 Q277.5,169.2 286,168.2" stroke="#fff" stroke-width="1.3"/>
</g>
<path d="M318.6,106.5 Q318.6,104.8 321,104.8 Q323.4,104.8 323.4,106.5 L323.2,109 L322.4,117.5 Q321.6,120.8 321,120.8 Q320.4,120.8 319.6,117.5 L318.8,109 Z" fill="#fff" stroke-width="1.7"/>
<path d="M319.2,108.6 L322.8,108.6" stroke-width="1.2"/>
<path d="M321,110 L321,117" stroke-width="0.7" stroke="#777"/>
<ellipse cx="321" cy="126.2" rx="2" ry="2.2" fill="#111" stroke="none"/>
<line x1="321" y1="130" x2="320.8" y2="163" stroke-width="2.5" stroke-dasharray="3.2 1.9" stroke-linecap="butt"/>
<path d="M320.8,164.5 Q323.5,168.5 322.6,170 Q320.8,171.8 319,170 Q318.1,168.5 320.8,164.5Z" fill="#111" stroke="none"/>
<g stroke="#2a2a2a" stroke-width="1.3" stroke-linecap="butt">
<line x1="163.7" y1="118.7" x2="213.5" y2="139.8"/>
<line x1="373.4" y1="100" x2="327.8" y2="110.8"/>
<line x1="372" y1="176.6" x2="326" y2="187.6"/>
<line x1="178.6" y1="204.4" x2="229" y2="213.6"/>
<line x1="373.3" y1="234.7" x2="318.7" y2="255.3"/>
<line x1="373.3" y1="286" x2="309.3" y2="293.3"/>
<line x1="391" y1="315" x2="290" y2="305"/>
<line x1="389" y1="355" x2="334" y2="342.4"/>
<line x1="388.8" y1="401" x2="346.8" y2="397.5"/>
<line x1="374.8" y1="479.2" x2="332.8" y2="482.7"/>
<line x1="369" y1="516.5" x2="329.3" y2="503.7"/>
<line x1="192" y1="287.5" x2="248.3" y2="306.3"/>
<line x1="185.3" y1="318.2" x2="249" y2="310.5"/>
<line x1="180.5" y1="355" x2="237" y2="330.3"/>
</g>
</g>
</svg>
</body></html>
